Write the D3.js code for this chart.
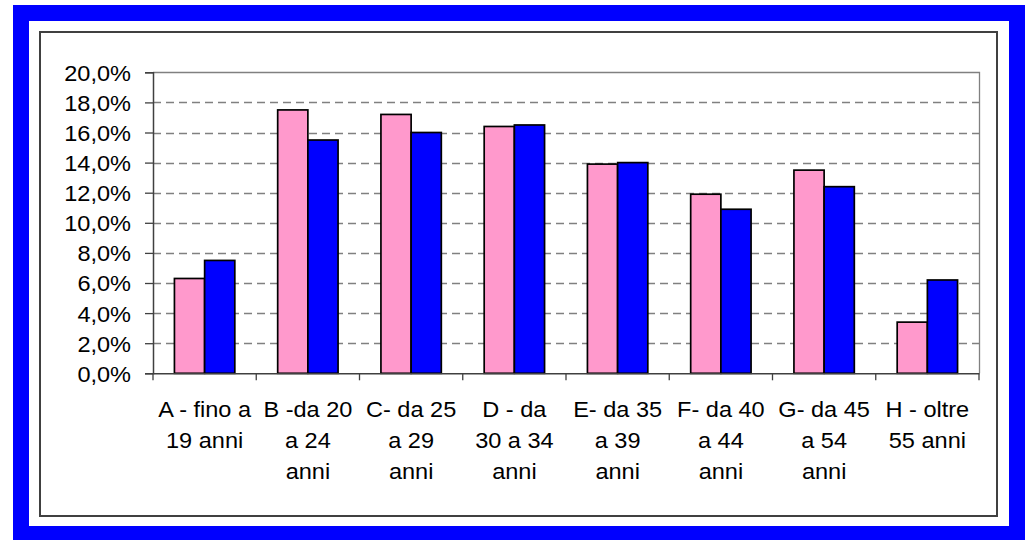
<!DOCTYPE html>
<html><head><meta charset="utf-8">
<script src="https://cdn.jsdelivr.net/npm/d3@7"></script>
<style>html,body{margin:0;padding:0;background:#fff;}svg{display:block;}</style>
</head><body>
<svg id="c" width="1025" height="540"></svg>
<script>
const categories = ["A","B","C","D","E","F","G","H"];
const categoryLabels = [
  ["A - fino a","19 anni"],
  ["B -da 20","a 24","anni"],
  ["C- da 25","a 29","anni"],
  ["D - da","30 a 34","anni"],
  ["E- da 35","a 39","anni"],
  ["F- da 40","a 44","anni"],
  ["G- da 45","a 54","anni"],
  ["H - oltre","55 anni"]
];
const seriesPink = [6.3, 17.5, 17.2, 16.4, 13.9, 11.9, 13.5, 3.4];
const seriesBlue = [7.5, 15.5, 16.0, 16.5, 14.0, 10.9, 12.4, 6.2];
const yTicks = [0,2,4,6,8,10,12,14,16,18,20];

const FONT = "Liberation Sans, Arial, sans-serif";
const SX = 1.07;
const svg = d3.select("#c");
// blue outer border
svg.append("rect").attr("x",13).attr("y",5).attr("width",1012).attr("height",535).attr("fill","#0000FF");
svg.append("rect").attr("x",29).attr("y",21).attr("width",980).attr("height",505).attr("fill","#fff");
// chart frame
svg.append("rect").attr("x",40).attr("y",32).attr("width",957).attr("height",484)
  .attr("fill","#fff").attr("stroke","#404040").attr("stroke-width",2);

const L=153, R=979, T=72.3, B=373.3;
const x = d3.scaleBand().domain(categories).range([L,R]);
const y = d3.scaleLinear().domain([0,20]).range([B,T]);
const inner = d3.scaleBand().domain(["p","b"]).range([0,x.bandwidth()]).paddingInner(0).paddingOuter(0.71);

const g = svg.append("g");
// gridlines
g.selectAll("line.grid").data(yTicks.filter(d=>d>0 && d<20)).enter().append("line")
  .attr("x1",L).attr("x2",R).attr("y1",d=>Math.round(y(d))+0.5).attr("y2",d=>Math.round(y(d))+0.5)
  .attr("stroke","#808080").attr("stroke-width",1.3).attr("stroke-dasharray","8,5");
// plot border top/right
g.append("path").attr("d",`M${L},${Math.round(T)+0.5}H${R+0.5}V${B}`).attr("fill","none")
  .attr("stroke","#808080").attr("stroke-width",1.3);

// bars
const groups = g.selectAll("g.cat").data(categories).enter().append("g")
  .attr("transform",d=>`translate(${x(d)},0)`);
groups.append("rect").attr("x",inner("p")).attr("width",inner.bandwidth())
  .attr("y",(d,i)=>y(seriesPink[i])).attr("height",(d,i)=>B-y(seriesPink[i]))
  .attr("fill","#FF99CC").attr("stroke","#000").attr("stroke-width",1.7);
groups.append("rect").attr("x",inner("b")).attr("width",inner.bandwidth())
  .attr("y",(d,i)=>y(seriesBlue[i])).attr("height",(d,i)=>B-y(seriesBlue[i]))
  .attr("fill","#0000FF").attr("stroke","#000").attr("stroke-width",1.7);

// y axis
const yAxis = d3.axisLeft(y).tickValues(yTicks).tickSize(8).tickPadding(14)
  .tickFormat(d=>d3.format(".1f")(d).replace(".",",")+"%");
const ya = svg.append("g").attr("transform",`translate(${L},0)`).call(yAxis);
ya.select(".domain").attr("stroke","#404040").attr("stroke-width",1.5);
ya.selectAll(".tick line").attr("stroke","#404040").attr("stroke-width",1.3);
ya.selectAll("text").attr("font-family",FONT).attr("font-size",22).attr("fill","#000")
  .attr("dy","0.36em").attr("x",0).attr("transform",`translate(-22,0) scale(${SX},1)`);

// x axis
const xAxis = d3.axisBottom(x).tickValues([]).tickSizeOuter(0);
const xa = svg.append("g").attr("transform",`translate(0,${B})`).call(xAxis);
xa.select(".domain").attr("stroke","#404040").attr("stroke-width",1.5);
const tickPos = categories.map(c=>x(c)).concat([R]);
xa.selectAll("line.tk").data(tickPos).enter().append("line")
  .attr("x1",d=>d).attr("x2",d=>d).attr("y1",0).attr("y2",7)
  .attr("stroke","#404040").attr("stroke-width",1.3);

// category labels
const lab = svg.append("g");
categories.forEach((c,i)=>{
  const cx = x(c)+x.bandwidth()/2;
  const t = lab.append("text").attr("transform",`translate(${cx},416.5) scale(${SX},1)`)
    .attr("text-anchor","middle").attr("font-family",FONT)
    .attr("font-size",22).attr("fill","#000");
  categoryLabels[i].forEach((s,j)=>{
    t.append("tspan").attr("x",0).attr("y",j*31.5).text(s);
  });
});
</script>
</body></html>
